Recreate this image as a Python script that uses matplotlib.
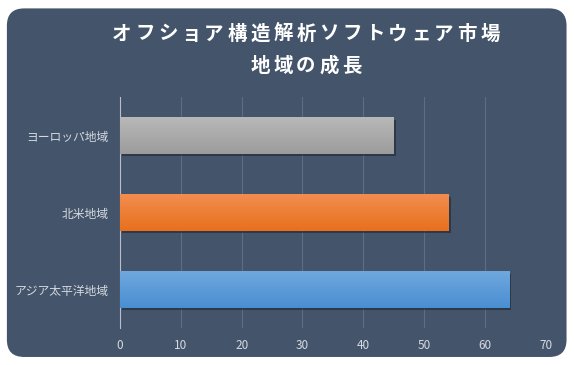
import numpy as np
import matplotlib.pyplot as plt
from matplotlib.patches import FancyBboxPatch
from matplotlib.colors import LinearSegmentedColormap

plt.rcParams['font.family'] = ['Noto Sans CJK JP', 'DejaVu Sans']

regions = ['アジア太平洋地域', '北米地域', 'ヨーロッパ地域']
growth = [64, 54, 45]
top_colors = ['#6fa8de', '#f28d4f', '#b8b8b8']
bottom_colors = ['#4a8ed2', '#e8701d', '#9c9c9c']
title_lines = ['オフショア構造解析ソフトウェア市場', '地域の成長']

W, H = 574, 365
bg = '#44546a'
fig = plt.figure(figsize=(W / 100, H / 100), dpi=100)
fig.patch.set_facecolor('white')
card = FancyBboxPatch((0.012, 0.022), 0.975, 0.955, boxstyle='round,pad=0,rounding_size=0.03',
                      transform=fig.transFigure, facecolor=bg, edgecolor='none',
                      mutation_aspect=W / H, zorder=-10)
fig.patches.append(card)

ax = fig.add_axes([0.209, 0.101, 0.742, 0.633])
ax.set_facecolor('none')
ax.set_zorder(2)

y = np.arange(len(regions))
bars = ax.barh(y, growth, height=0.47, color='none', zorder=3)
for b, c1, c2 in zip(bars, top_colors, bottom_colors):
    x0, y0 = b.get_x(), b.get_y()
    w, h = b.get_width(), b.get_height()
    ax.add_patch(plt.Rectangle((x0 + 0.35, y0 - 0.035), w, h, color='#1e2633',
                               alpha=0.6, zorder=2, lw=0))
    cmap = LinearSegmentedColormap.from_list('g', [c2, c1])
    grad = np.linspace(0, 1, 64).reshape(-1, 1)
    ax.imshow(grad, cmap=cmap, aspect='auto', origin='lower',
              extent=(x0, x0 + w, y0, y0 + h), zorder=3)

ax.set_xlim(0, 70)
ax.set_ylim(-0.5, 2.5)
ax.set_xticks(range(0, 71, 10))
ax.set_yticks(y)
ax.set_yticklabels(regions)
ax.xaxis.grid(True, color='#5e6d82', lw=0.8)
ax.set_axisbelow(True)
for s in ['top', 'right', 'bottom']:
    ax.spines[s].set_visible(False)
ax.spines['left'].set_color('#b8bfca')
ax.spines['left'].set_linewidth(0.8)
ax.tick_params(axis='both', length=0, colors='#d5dae2')
ax.tick_params(axis='x', pad=8, labelsize=8.5)
ax.tick_params(axis='y', pad=8, labelsize=8.5)

# title with wide letter spacing, one character at a time
pitch = 23 / W
for line, ypix in zip(title_lines, [34, 66]):
    n = len(line)
    for i, ch in enumerate(line):
        fig.text(306 / W + (i - (n - 1) / 2) * pitch, 1 - ypix / H, ch,
                 ha='center', va='center', color='white',
                 fontsize=14, fontweight='bold')

fig.savefig('out.png', dpi=100, facecolor='white')
